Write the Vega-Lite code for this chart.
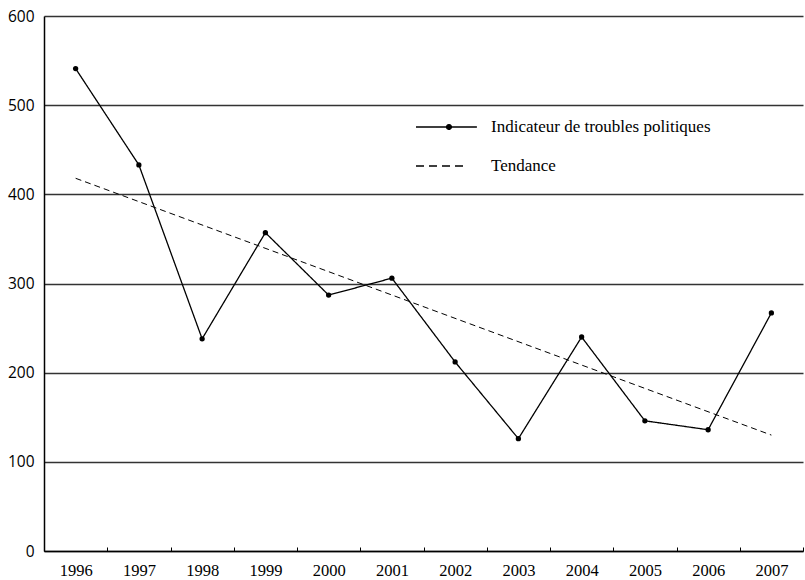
{
  "$schema": "https://vega.github.io/schema/vega-lite/v6.json",
  "autosize": "none",
  "width": 759,
  "height": 535,
  "padding": {"left": 44, "top": 16, "right": 2, "bottom": 29},
  "background": "white",
  "config": {"view": {"stroke": null}},
  "datasets": {
    "main": [
      {"year": "1996", "value": 541, "series": "Indicateur de troubles politiques"},
      {"year": "1997", "value": 433, "series": "Indicateur de troubles politiques"},
      {"year": "1998", "value": 238, "series": "Indicateur de troubles politiques"},
      {"year": "1999", "value": 357, "series": "Indicateur de troubles politiques"},
      {"year": "2000", "value": 287, "series": "Indicateur de troubles politiques"},
      {"year": "2001", "value": 306, "series": "Indicateur de troubles politiques"},
      {"year": "2002", "value": 212, "series": "Indicateur de troubles politiques"},
      {"year": "2003", "value": 126, "series": "Indicateur de troubles politiques"},
      {"year": "2004", "value": 240, "series": "Indicateur de troubles politiques"},
      {"year": "2005", "value": 146, "series": "Indicateur de troubles politiques"},
      {"year": "2006", "value": 136, "series": "Indicateur de troubles politiques"},
      {"year": "2007", "value": 267, "series": "Indicateur de troubles politiques"}
    ],
    "trend": [
      {"year": "1996", "value": 418, "series": "Tendance"},
      {"year": "2007", "value": 130, "series": "Tendance"}
    ]
  },
  "layer": [
    {
      "data": {"name": "main"},
      "mark": {"type": "line", "color": "black", "strokeWidth": 1.3},
      "encoding": {
        "x": {
          "field": "year", "type": "ordinal", "bandPosition": 0.5,
          "scale": {"type": "band", "paddingInner": 0, "paddingOuter": 0,
            "domain": ["1996","1997","1998","1999","2000","2001","2002","2003","2004","2005","2006","2007"]},
          "axis": {
            "title": null, "labelAngle": 0, "tickBand": "extent",
            "domainColor": "black", "domainWidth": 1.5,
            "tickColor": "black", "tickSize": -4, "tickWidth": 1,
            "labelFont": "Liberation Serif", "labelFontSize": 16.5, "labelColor": "black",
            "labelPadding": 15, "grid": false
          }
        },
        "y": {
          "field": "value", "type": "quantitative",
          "scale": {"domain": [0, 600], "nice": false},
          "axis": {
            "title": null, "values": [0,100,200,300,400,500,600],
            "ticks": false, "domainColor": "black", "domainWidth": 1.5,
            "grid": true, "gridColor": "#333333", "gridWidth": 1.3,
            "labelFont": "Open Sans", "labelFontSize": 15.5, "labelColor": "black",
            "labelPadding": 10
          }
        },
        "strokeDash": {
          "field": "series", "type": "nominal",
          "scale": {"domain": ["Indicateur de troubles politiques", "Tendance"], "range": [[1, 0], [8, 5]]},
          "legend": {
            "title": null, "orient": "none", "legendX": 374, "legendY": 80,
            "symbolSize": 3600, "symbolStrokeWidth": 1.3, "symbolStrokeColor": "black",
            "symbolFillColor": "black", "labelLimit": 400,
            "labelFont": "Liberation Serif", "labelFontSize": 17, "labelColor": "black",
            "labelOffset": 11, "rowPadding": -20,
            "encode": {
              "symbols": {
                "update": {
                  "shape": [
                    {"test": "datum.value === 'Tendance'", "value": "M-1.1,0H0.5"},
                    {"value": "M-1.1,0H0.93M0.08,0A0.08,0.08 0 1,1 -0.08,0A0.08,0.08 0 1,1 0.08,0Z"}
                  ]
                }
              }
            }
          }
        }
      }
    },
    {
      "data": {"name": "main"},
      "mark": {"type": "point", "filled": true, "color": "black", "size": 28, "opacity": 1},
      "encoding": {
        "x": {"field": "year", "type": "ordinal", "bandPosition": 0.5},
        "y": {"field": "value", "type": "quantitative"}
      }
    },
    {
      "data": {"name": "trend"},
      "mark": {"type": "line", "color": "black", "strokeWidth": 1, "strokeDash": [6, 4]},
      "encoding": {
        "x": {"field": "year", "type": "ordinal", "bandPosition": 0.5},
        "y": {"field": "value", "type": "quantitative"}
      }
    }
  ]
}
